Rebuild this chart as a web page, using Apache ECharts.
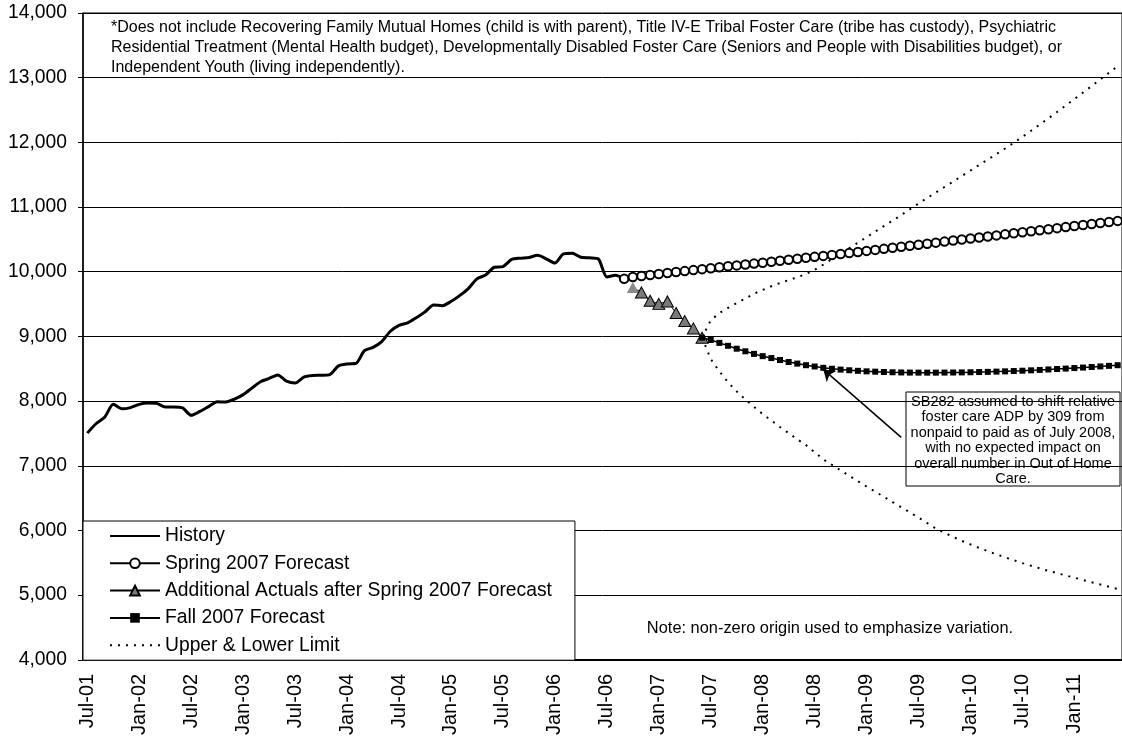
<!DOCTYPE html>
<html>
<head>
<meta charset="utf-8">
<script src="https://cdn.jsdelivr.net/npm/echarts@6/dist/echarts.min.js"></script>
<style>
  html, body { margin: 0; padding: 0; background: #fff; }
  #chart { width: 1122px; height: 738px; }
</style>
</head>
<body>
<div id="chart"></div>
<script>
var FONT = "Arial, 'Liberation Sans', sans-serif";

// monthly categories, Jul-01 .. Jun-11
var monthNames = ["Jan", "Feb", "Mar", "Apr", "May", "Jun", "Jul", "Aug", "Sep", "Oct", "Nov", "Dec"];
var categories = [];
for (var i = 0; i < 120; i++) {
  var yr = 1 + Math.floor((6 + i) / 12);
  categories.push(monthNames[(6 + i) % 12] + "-" + (yr < 10 ? "0" + yr : yr));
}

var tickLabels = [
  "Jul-01", "Jan-02", "Jul-02", "Jan-03", "Jul-03", "Jan-04", "Jul-04", "Jan-05", "Jul-05", "Jan-06",
  "Jul-06", "Jan-07", "Jul-07", "Jan-08", "Jul-08", "Jan-09", "Jul-09", "Jan-10", "Jul-10", "Jan-11",
];

var historyStart = "Jul-01";
var historyValues = [
  7505, 7650, 7750, 7950, 7880, 7900, 7950, 7970, 7965, 7910,
  7910, 7895, 7780, 7840, 7915, 7990, 7985, 8030, 8100, 8200,
  8300, 8350, 8405, 8310, 8280, 8370, 8395, 8400, 8410, 8545,
  8575, 8580, 8780, 8830, 8920, 9080, 9170, 9210, 9290, 9380,
  9485, 9475, 9540, 9630, 9740, 9890, 9950, 10070, 10080, 10190,
  10210, 10220, 10255, 10200, 10135, 10275, 10285, 10225, 10215, 10200,
  9920, 9945, 9890,
];

var springStart = "Sep-06";
var springValues = [
  9890, 9920, 9935, 9950, 9965, 9980, 9995, 10010, 10025, 10040,
  10055, 10070, 10084, 10098, 10112, 10126, 10140, 10155, 10170, 10185,
  10200, 10215, 10230, 10245, 10260, 10275, 10290, 10306, 10322, 10338,
  10354, 10370, 10386, 10402, 10418, 10434, 10450, 10466, 10482, 10498,
  10514, 10530, 10546, 10562, 10578, 10594, 10610, 10626, 10642, 10658,
  10674, 10690, 10706, 10722, 10738, 10754, 10770, 10786,
];

var actualsStart = "Oct-06";
var actualsValues = [9757, 9680, 9551, 9503, 9541, 9361, 9237, 9124, 8980];

var fallStart = "Jun-07";
var fallValues = [
  8980, 8945, 8900, 8855, 8810, 8770, 8730, 8695, 8665,
  8635, 8605, 8580, 8555, 8535, 8515, 8500, 8487, 8477, 8468,
  8460, 8455, 8450, 8446, 8443, 8441, 8440, 8440, 8440, 8441,
  8442, 8444, 8446, 8449, 8452, 8456, 8460, 8465, 8470, 8476,
  8482, 8489, 8496, 8503, 8511, 8519, 8527, 8536, 8545, 8555,
];

var limitStart = "Jun-07";
var upperValues = [
  8980, 9250, 9360, 9440, 9515, 9585, 9660, 9720, 9775,
  9825, 9870, 9915, 9965, 10030, 10110, 10195, 10280, 10365, 10450,
  10535, 10620, 10705, 10790, 10875, 10965, 11055, 11140, 11225, 11310,
  11395, 11480, 11565, 11650, 11735, 11820, 11905, 11995, 12085, 12180,
  12275, 12370, 12470, 12570, 12670, 12770, 12870, 12975, 13075, 13180,
];
var lowerValues = [
  8980, 8650, 8460, 8290, 8150, 8025, 7910, 7800, 7700,
  7600, 7505, 7410, 7320, 7210, 7100, 7015, 6930, 6845, 6760,
  6680, 6600, 6520, 6440, 6360, 6280, 6200, 6115, 6030, 5965,
  5900, 5840, 5785, 5730, 5680, 5630, 5585, 5540, 5495, 5455,
  5415, 5375, 5340, 5305, 5270, 5235, 5200, 5165, 5130, 5095,
];

// arrow of the SB282 note: [month, value] at the box edge and at the tip
var arrowFrom = ["May-09", 7440];
var arrowTo = ["Aug-08", 8490];

function pad(start, vals) {
  var k = categories.indexOf(start);
  return categories.map(function (c, i) {
    return i >= k && i - k < vals.length ? vals[i - k] : null;
  });
}

var actualsData = pad(actualsStart, actualsValues).map(function (v, i) {
  if (v !== null && categories[i] === actualsStart) {
    return { value: v, itemStyle: { color: "#8a8a8a", borderWidth: 0 } };
  }
  return v;
});

function showTick(index) {
  return tickLabels.indexOf(categories[index]) >= 0;
}

var chart = echarts.init(document.getElementById("chart"));

chart.setOption({
  animation: false,
  textStyle: { fontFamily: FONT },
  grid: {
    left: 83,
    right: -5,
    top: 13,
    bottom: 78,
    show: true,
    borderColor: "#000",
    borderWidth: 1,
  },
  legend: {
    orient: "vertical",
    left: 83,
    top: 521,
    padding: [5, 23, 5, 26],
    backgroundColor: "#fff",
    borderColor: "#000",
    borderWidth: 1,
    itemWidth: 50,
    itemHeight: 12,
    itemGap: 7.3,
    textStyle: { fontFamily: FONT, fontSize: 19.3, color: "#000", lineHeight: 20 },
    data: [
      { name: "History", itemStyle: { color: "rgba(0,0,0,0)", borderWidth: 0 } },
      { name: "Spring 2007 Forecast" },
      { name: "Additional Actuals after Spring 2007 Forecast" },
      { name: "Fall 2007 Forecast" },
      { name: "Upper & Lower Limit", itemStyle: { color: "rgba(0,0,0,0)", borderWidth: 0 } },
    ],
  },
  xAxis: {
    type: "category",
    data: categories,
    boundaryGap: true,
    axisLine: { lineStyle: { color: "#000", width: 2 } },
    axisTick: { interval: showTick, length: 5, lineStyle: { color: "#000" } },
    axisLabel: {
      interval: showTick,
      rotate: 90,
      margin: 14,
      fontSize: 20,
      color: "#000",
      fontFamily: FONT,
    },
    splitLine: { show: false },
  },
  yAxis: {
    type: "value",
    min: 4000,
    max: 14000,
    interval: 1000,
    axisLine: { show: true, lineStyle: { color: "#000", width: 1.5 } },
    axisTick: { show: true, length: 5, lineStyle: { color: "#000" } },
    axisLabel: {
      margin: 16,
      fontSize: 19.3,
      color: "#000",
      fontFamily: FONT,
      formatter: function (v) {
        return v.toLocaleString("en-US");
      },
    },
    splitLine: { lineStyle: { color: "#000", width: 1 } },
  },
  series: [
    {
      name: "Upper & Lower Limit",
      type: "line",
      data: pad(limitStart, upperValues),
      symbol: "none",
      lineStyle: { color: "#000", width: 2, type: [2, 6] },
      itemStyle: { color: "#000" },
    },
    {
      name: "Upper & Lower Limit",
      type: "line",
      data: pad(limitStart, lowerValues),
      symbol: "none",
      lineStyle: { color: "#000", width: 2, type: [2, 6] },
      itemStyle: { color: "#000" },
    },
    {
      name: "History",
      type: "line",
      data: pad(historyStart, historyValues),
      symbol: "none",
      smooth: 0.25,
      lineStyle: { color: "#000", width: 3 },
      itemStyle: { color: "#000" },
    },
    {
      name: "Spring 2007 Forecast",
      type: "line",
      data: pad(springStart, springValues),
      symbol: "emptyCircle",
      symbolSize: 8.5,
      showAllSymbol: true,
      lineStyle: { color: "#000", width: 1 },
      itemStyle: { color: "#000", borderColor: "#000", borderWidth: 1.3 },
    },
    {
      name: "Additional Actuals after Spring 2007 Forecast",
      type: "line",
      data: actualsData,
      symbol: "triangle",
      symbolSize: [12, 11],
      showAllSymbol: true,
      lineStyle: { color: "#000", width: 1 },
      itemStyle: { color: "#7a7a7a", borderColor: "#000", borderWidth: 1 },
    },
    {
      name: "Fall 2007 Forecast",
      type: "line",
      data: pad(fallStart, fallValues),
      symbol: "rect",
      symbolSize: 6,
      showAllSymbol: true,
      lineStyle: { color: "#000", width: 1.5 },
      itemStyle: { color: "#000" },
      markLine: {
        silent: true,
        symbol: ["none", "arrow"],
        symbolSize: 11,
        label: { show: false },
        lineStyle: { color: "#000", width: 1.5, type: "solid" },
        data: [
          [
            { coord: [categories.indexOf(arrowFrom[0]), arrowFrom[1]] },
            { coord: [categories.indexOf(arrowTo[0]), arrowTo[1]] },
          ],
        ],
      },
    },
  ],
  graphic: [
    {
      type: "text",
      x: 111,
      y: 18,
      style: {
        text:
          "*Does not include Recovering Family Mutual Homes (child is with parent), Title IV-E Tribal Foster Care (tribe has custody), Psychiatric\n" +
          "Residential Treatment (Mental Health budget), Developmentally Disabled Foster Care (Seniors and People with Disabilities budget), or\n" +
          "Independent Youth (living independently).",
        font: "16px " + FONT,
        lineHeight: 20,
        fill: "#000",
        verticalAlign: "top",
      },
      z: 10,
    },
    {
      type: "text",
      x: 830,
      y: 628,
      style: {
        text: "Note: non-zero origin used to emphasize variation.",
        font: "16.4px " + FONT,
        fill: "#000",
        align: "center",
        verticalAlign: "middle",
      },
      z: 10,
    },
    {
      type: "group",
      x: 906,
      y: 392,
      z: 10,
      children: [
        {
          type: "rect",
          shape: { x: 0, y: 0, width: 214, height: 94 },
          style: { fill: "#fff", stroke: "#000", lineWidth: 1 },
        },
        {
          type: "text",
          x: 107,
          y: 2,
          style: {
            text:
              "SB282 assumed to shift relative\nfoster care ADP by 309 from\nnonpaid to paid as of July 2008,\nwith no expected impact on\noverall number in Out of Home\nCare.",
            font: "14.5px " + FONT,
            lineHeight: 15.5,
            fill: "#000",
            align: "center",
            verticalAlign: "top",
          },
        },
      ],
    },
  ],
});
</script>
</body>
</html>
